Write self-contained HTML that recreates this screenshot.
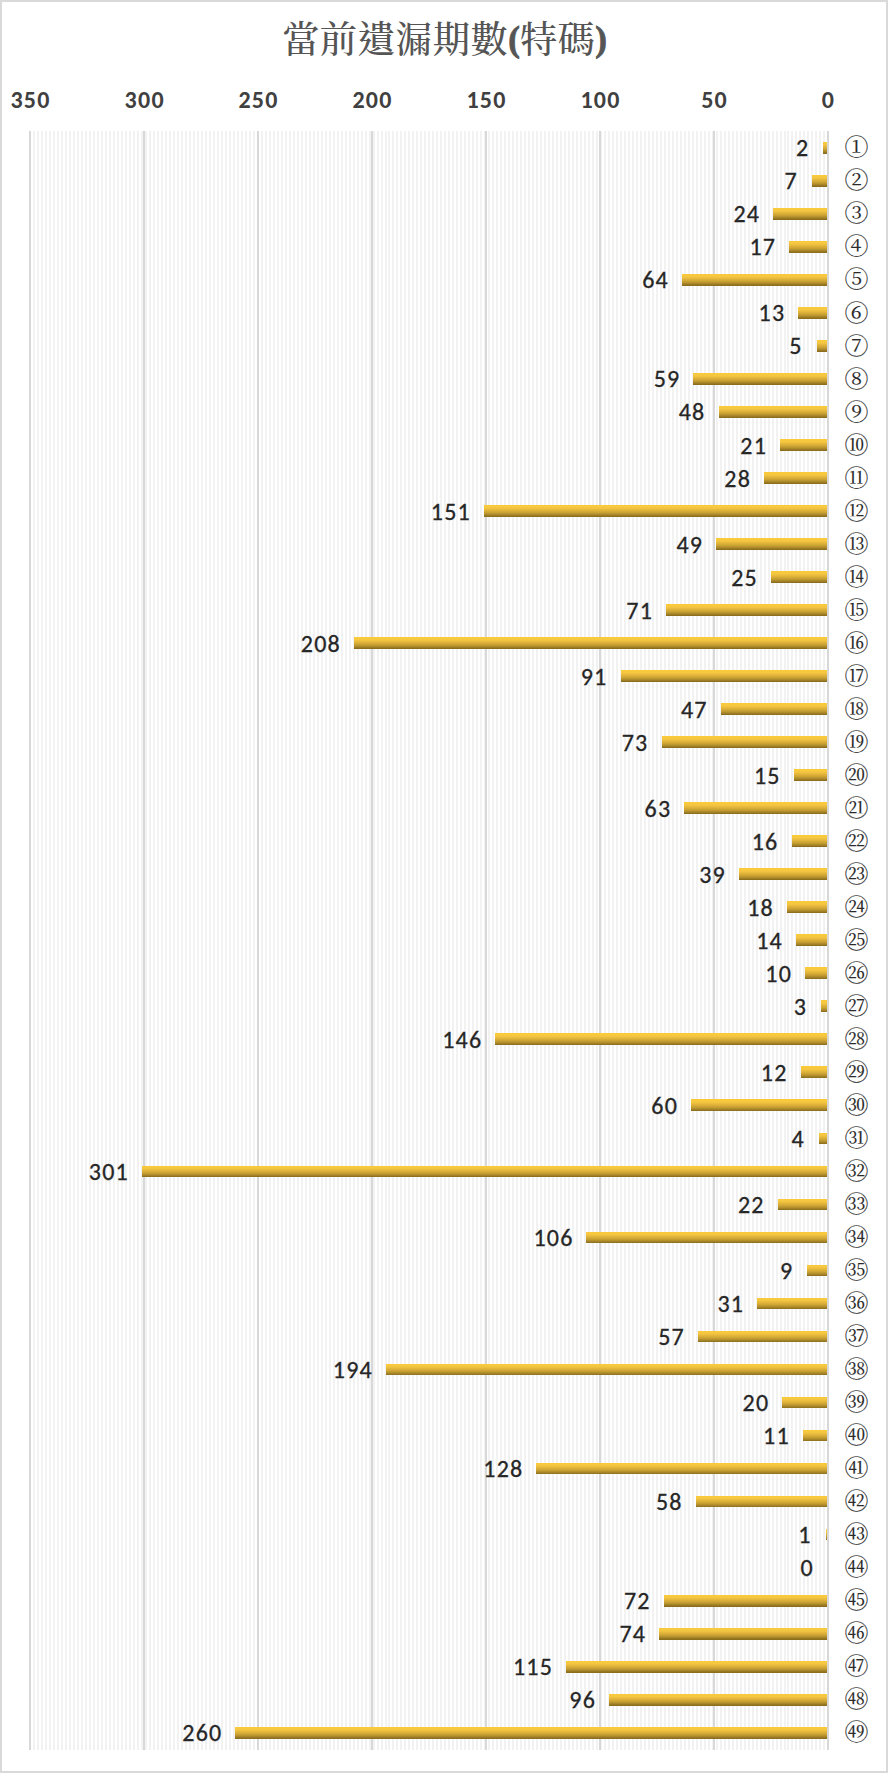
<!DOCTYPE html>
<html><head><meta charset="utf-8"><title>當前遺漏期數(特碼)</title>
<style>
html,body{margin:0;padding:0;background:#fff;}
body{width:888px;height:1774px;overflow:hidden;position:relative;}
svg{position:absolute;left:0;top:0;display:block;}
.t{font-family:"Noto Serif CJK TC","Noto Serif CJK SC","Liberation Serif",serif;font-size:37.33px;font-weight:500;fill:#555555;letter-spacing:0.35px;}
.tp{font-family:"Liberation Serif",serif;font-weight:bold;font-size:35px;letter-spacing:0;stroke:#555555;stroke-width:0.8px;}
.ax{font-family:Carlito,"Liberation Sans",sans-serif;font-size:24px;font-weight:bold;fill:#404040;letter-spacing:1.3px;}
.dl{font-family:Carlito,"Liberation Sans",sans-serif;font-size:24px;letter-spacing:1.2px;fill:#262626;stroke:#262626;stroke-width:0.3px;}
.cl{font-family:"Noto Serif CJK TC","Noto Serif CJK SC","Liberation Serif",serif;font-size:24px;fill:#2a2a2a;stroke:#2a2a2a;stroke-width:0.12px;}
</style></head><body>
<svg width="888" height="1774" viewBox="0 0 888 1774">
<defs><linearGradient id="g" x1="0" y1="0" x2="0" y2="1">
<stop offset="0.0417" stop-color="#fbca38"/><stop offset="0.1250" stop-color="#f8c83f"/><stop offset="0.2083" stop-color="#f5c842"/><stop offset="0.2917" stop-color="#f0c240"/><stop offset="0.3750" stop-color="#e8ba3c"/><stop offset="0.4583" stop-color="#dfb23a"/><stop offset="0.5417" stop-color="#d6aa36"/><stop offset="0.6250" stop-color="#cba333"/><stop offset="0.7083" stop-color="#be9830"/><stop offset="0.7917" stop-color="#ae8b2c"/><stop offset="0.8750" stop-color="#9f7f26"/><stop offset="0.9583" stop-color="#8c6e1c"/>
</linearGradient></defs>
<rect x="0" y="0" width="888" height="1774" fill="#fff"/>
<rect x="1" y="1" width="886" height="1771" fill="none" stroke="#d9d9d9" stroke-width="2"/>
<text class="t" x="444.5" y="53" text-anchor="middle">當前遺漏期數<tspan class="tp" dy="-2.5">(</tspan><tspan dy="2.5">特碼</tspan><tspan class="tp" dy="-2.5">)</tspan></text>
<g stroke="#f2f2f2" stroke-width="2"><line x1="824" y1="131" x2="824" y2="1750"/><line x1="820" y1="131" x2="820" y2="1750"/><line x1="816" y1="131" x2="816" y2="1750"/><line x1="812" y1="131" x2="812" y2="1750"/><line x1="808" y1="131" x2="808" y2="1750"/><line x1="804" y1="131" x2="804" y2="1750"/><line x1="800" y1="131" x2="800" y2="1750"/><line x1="796" y1="131" x2="796" y2="1750"/><line x1="792" y1="131" x2="792" y2="1750"/><line x1="788" y1="131" x2="788" y2="1750"/><line x1="785" y1="131" x2="785" y2="1750"/><line x1="781" y1="131" x2="781" y2="1750"/><line x1="777" y1="131" x2="777" y2="1750"/><line x1="773" y1="131" x2="773" y2="1750"/><line x1="769" y1="131" x2="769" y2="1750"/><line x1="765" y1="131" x2="765" y2="1750"/><line x1="761" y1="131" x2="761" y2="1750"/><line x1="757" y1="131" x2="757" y2="1750"/><line x1="753" y1="131" x2="753" y2="1750"/><line x1="749" y1="131" x2="749" y2="1750"/><line x1="745" y1="131" x2="745" y2="1750"/><line x1="741" y1="131" x2="741" y2="1750"/><line x1="737" y1="131" x2="737" y2="1750"/><line x1="733" y1="131" x2="733" y2="1750"/><line x1="729" y1="131" x2="729" y2="1750"/><line x1="725" y1="131" x2="725" y2="1750"/><line x1="721" y1="131" x2="721" y2="1750"/><line x1="717" y1="131" x2="717" y2="1750"/><line x1="713" y1="131" x2="713" y2="1750"/><line x1="709" y1="131" x2="709" y2="1750"/><line x1="705" y1="131" x2="705" y2="1750"/><line x1="701" y1="131" x2="701" y2="1750"/><line x1="697" y1="131" x2="697" y2="1750"/><line x1="693" y1="131" x2="693" y2="1750"/><line x1="689" y1="131" x2="689" y2="1750"/><line x1="685" y1="131" x2="685" y2="1750"/><line x1="681" y1="131" x2="681" y2="1750"/><line x1="677" y1="131" x2="677" y2="1750"/><line x1="673" y1="131" x2="673" y2="1750"/><line x1="669" y1="131" x2="669" y2="1750"/><line x1="665" y1="131" x2="665" y2="1750"/><line x1="661" y1="131" x2="661" y2="1750"/><line x1="657" y1="131" x2="657" y2="1750"/><line x1="653" y1="131" x2="653" y2="1750"/><line x1="649" y1="131" x2="649" y2="1750"/><line x1="645" y1="131" x2="645" y2="1750"/><line x1="641" y1="131" x2="641" y2="1750"/><line x1="637" y1="131" x2="637" y2="1750"/><line x1="633" y1="131" x2="633" y2="1750"/><line x1="629" y1="131" x2="629" y2="1750"/><line x1="625" y1="131" x2="625" y2="1750"/><line x1="621" y1="131" x2="621" y2="1750"/><line x1="617" y1="131" x2="617" y2="1750"/><line x1="613" y1="131" x2="613" y2="1750"/><line x1="609" y1="131" x2="609" y2="1750"/><line x1="605" y1="131" x2="605" y2="1750"/><line x1="601" y1="131" x2="601" y2="1750"/><line x1="597" y1="131" x2="597" y2="1750"/><line x1="593" y1="131" x2="593" y2="1750"/><line x1="589" y1="131" x2="589" y2="1750"/><line x1="585" y1="131" x2="585" y2="1750"/><line x1="581" y1="131" x2="581" y2="1750"/><line x1="577" y1="131" x2="577" y2="1750"/><line x1="573" y1="131" x2="573" y2="1750"/><line x1="569" y1="131" x2="569" y2="1750"/><line x1="565" y1="131" x2="565" y2="1750"/><line x1="561" y1="131" x2="561" y2="1750"/><line x1="557" y1="131" x2="557" y2="1750"/><line x1="553" y1="131" x2="553" y2="1750"/><line x1="549" y1="131" x2="549" y2="1750"/><line x1="545" y1="131" x2="545" y2="1750"/><line x1="541" y1="131" x2="541" y2="1750"/><line x1="537" y1="131" x2="537" y2="1750"/><line x1="533" y1="131" x2="533" y2="1750"/><line x1="529" y1="131" x2="529" y2="1750"/><line x1="525" y1="131" x2="525" y2="1750"/><line x1="521" y1="131" x2="521" y2="1750"/><line x1="517" y1="131" x2="517" y2="1750"/><line x1="513" y1="131" x2="513" y2="1750"/><line x1="509" y1="131" x2="509" y2="1750"/><line x1="505" y1="131" x2="505" y2="1750"/><line x1="501" y1="131" x2="501" y2="1750"/><line x1="497" y1="131" x2="497" y2="1750"/><line x1="493" y1="131" x2="493" y2="1750"/><line x1="489" y1="131" x2="489" y2="1750"/><line x1="485" y1="131" x2="485" y2="1750"/><line x1="481" y1="131" x2="481" y2="1750"/><line x1="477" y1="131" x2="477" y2="1750"/><line x1="473" y1="131" x2="473" y2="1750"/><line x1="469" y1="131" x2="469" y2="1750"/><line x1="465" y1="131" x2="465" y2="1750"/><line x1="461" y1="131" x2="461" y2="1750"/><line x1="457" y1="131" x2="457" y2="1750"/><line x1="453" y1="131" x2="453" y2="1750"/><line x1="449" y1="131" x2="449" y2="1750"/><line x1="445" y1="131" x2="445" y2="1750"/><line x1="441" y1="131" x2="441" y2="1750"/><line x1="437" y1="131" x2="437" y2="1750"/><line x1="433" y1="131" x2="433" y2="1750"/><line x1="429" y1="131" x2="429" y2="1750"/><line x1="425" y1="131" x2="425" y2="1750"/><line x1="421" y1="131" x2="421" y2="1750"/><line x1="417" y1="131" x2="417" y2="1750"/><line x1="413" y1="131" x2="413" y2="1750"/><line x1="409" y1="131" x2="409" y2="1750"/><line x1="405" y1="131" x2="405" y2="1750"/><line x1="401" y1="131" x2="401" y2="1750"/><line x1="397" y1="131" x2="397" y2="1750"/><line x1="393" y1="131" x2="393" y2="1750"/><line x1="389" y1="131" x2="389" y2="1750"/><line x1="386" y1="131" x2="386" y2="1750"/><line x1="382" y1="131" x2="382" y2="1750"/><line x1="378" y1="131" x2="378" y2="1750"/><line x1="374" y1="131" x2="374" y2="1750"/><line x1="370" y1="131" x2="370" y2="1750"/><line x1="366" y1="131" x2="366" y2="1750"/><line x1="362" y1="131" x2="362" y2="1750"/><line x1="358" y1="131" x2="358" y2="1750"/><line x1="354" y1="131" x2="354" y2="1750"/><line x1="350" y1="131" x2="350" y2="1750"/><line x1="346" y1="131" x2="346" y2="1750"/><line x1="342" y1="131" x2="342" y2="1750"/><line x1="338" y1="131" x2="338" y2="1750"/><line x1="334" y1="131" x2="334" y2="1750"/><line x1="330" y1="131" x2="330" y2="1750"/><line x1="326" y1="131" x2="326" y2="1750"/><line x1="322" y1="131" x2="322" y2="1750"/><line x1="318" y1="131" x2="318" y2="1750"/><line x1="314" y1="131" x2="314" y2="1750"/><line x1="310" y1="131" x2="310" y2="1750"/><line x1="306" y1="131" x2="306" y2="1750"/><line x1="302" y1="131" x2="302" y2="1750"/><line x1="298" y1="131" x2="298" y2="1750"/><line x1="294" y1="131" x2="294" y2="1750"/><line x1="290" y1="131" x2="290" y2="1750"/><line x1="286" y1="131" x2="286" y2="1750"/><line x1="282" y1="131" x2="282" y2="1750"/><line x1="278" y1="131" x2="278" y2="1750"/><line x1="274" y1="131" x2="274" y2="1750"/><line x1="270" y1="131" x2="270" y2="1750"/><line x1="266" y1="131" x2="266" y2="1750"/><line x1="262" y1="131" x2="262" y2="1750"/><line x1="258" y1="131" x2="258" y2="1750"/><line x1="254" y1="131" x2="254" y2="1750"/><line x1="250" y1="131" x2="250" y2="1750"/><line x1="246" y1="131" x2="246" y2="1750"/><line x1="242" y1="131" x2="242" y2="1750"/><line x1="238" y1="131" x2="238" y2="1750"/><line x1="234" y1="131" x2="234" y2="1750"/><line x1="230" y1="131" x2="230" y2="1750"/><line x1="226" y1="131" x2="226" y2="1750"/><line x1="222" y1="131" x2="222" y2="1750"/><line x1="218" y1="131" x2="218" y2="1750"/><line x1="214" y1="131" x2="214" y2="1750"/><line x1="210" y1="131" x2="210" y2="1750"/><line x1="206" y1="131" x2="206" y2="1750"/><line x1="202" y1="131" x2="202" y2="1750"/><line x1="198" y1="131" x2="198" y2="1750"/><line x1="194" y1="131" x2="194" y2="1750"/><line x1="190" y1="131" x2="190" y2="1750"/><line x1="186" y1="131" x2="186" y2="1750"/><line x1="182" y1="131" x2="182" y2="1750"/><line x1="178" y1="131" x2="178" y2="1750"/><line x1="174" y1="131" x2="174" y2="1750"/><line x1="170" y1="131" x2="170" y2="1750"/><line x1="166" y1="131" x2="166" y2="1750"/><line x1="162" y1="131" x2="162" y2="1750"/><line x1="158" y1="131" x2="158" y2="1750"/><line x1="154" y1="131" x2="154" y2="1750"/><line x1="150" y1="131" x2="150" y2="1750"/><line x1="146" y1="131" x2="146" y2="1750"/><line x1="142" y1="131" x2="142" y2="1750"/><line x1="138" y1="131" x2="138" y2="1750"/><line x1="134" y1="131" x2="134" y2="1750"/><line x1="130" y1="131" x2="130" y2="1750"/><line x1="126" y1="131" x2="126" y2="1750"/><line x1="122" y1="131" x2="122" y2="1750"/><line x1="118" y1="131" x2="118" y2="1750"/><line x1="114" y1="131" x2="114" y2="1750"/><line x1="110" y1="131" x2="110" y2="1750"/><line x1="106" y1="131" x2="106" y2="1750"/><line x1="102" y1="131" x2="102" y2="1750"/><line x1="98" y1="131" x2="98" y2="1750"/><line x1="94" y1="131" x2="94" y2="1750"/><line x1="90" y1="131" x2="90" y2="1750"/><line x1="86" y1="131" x2="86" y2="1750"/><line x1="82" y1="131" x2="82" y2="1750"/><line x1="78" y1="131" x2="78" y2="1750"/><line x1="74" y1="131" x2="74" y2="1750"/><line x1="70" y1="131" x2="70" y2="1750"/><line x1="66" y1="131" x2="66" y2="1750"/><line x1="62" y1="131" x2="62" y2="1750"/><line x1="58" y1="131" x2="58" y2="1750"/><line x1="54" y1="131" x2="54" y2="1750"/><line x1="50" y1="131" x2="50" y2="1750"/><line x1="46" y1="131" x2="46" y2="1750"/><line x1="42" y1="131" x2="42" y2="1750"/><line x1="38" y1="131" x2="38" y2="1750"/><line x1="34" y1="131" x2="34" y2="1750"/></g>
<g stroke="#d8d8d8" stroke-width="2"><line x1="828" y1="131" x2="828" y2="1750"/><line x1="714" y1="131" x2="714" y2="1750"/><line x1="600" y1="131" x2="600" y2="1750"/><line x1="486" y1="131" x2="486" y2="1750"/><line x1="372" y1="131" x2="372" y2="1750"/><line x1="258" y1="131" x2="258" y2="1750"/><line x1="144" y1="131" x2="144" y2="1750"/><line x1="30" y1="131" x2="30" y2="1750"/></g>
<text class="ax" x="828.6" y="107.5" text-anchor="middle">0</text><text class="ax" x="714.6" y="107.5" text-anchor="middle">50</text><text class="ax" x="600.6" y="107.5" text-anchor="middle">100</text><text class="ax" x="486.6" y="107.5" text-anchor="middle">150</text><text class="ax" x="372.6" y="107.5" text-anchor="middle">200</text><text class="ax" x="258.6" y="107.5" text-anchor="middle">250</text><text class="ax" x="144.7" y="107.5" text-anchor="middle">300</text><text class="ax" x="30.6" y="107.5" text-anchor="middle">350</text>
<g fill="url(#g)" shape-rendering="crispEdges"><rect x="823.44" y="141.85" width="3.56" height="11.7"/><rect x="812.04" y="174.87" width="14.96" height="11.7"/><rect x="773.28" y="207.89" width="53.72" height="11.7"/><rect x="789.24" y="240.92" width="37.76" height="11.7"/><rect x="682.08" y="273.94" width="144.92" height="11.7"/><rect x="798.36" y="306.96" width="28.64" height="11.7"/><rect x="816.60" y="339.98" width="10.40" height="11.7"/><rect x="693.48" y="373.00" width="133.52" height="11.7"/><rect x="718.56" y="406.03" width="108.44" height="11.7"/><rect x="780.12" y="439.05" width="46.88" height="11.7"/><rect x="764.16" y="472.07" width="62.84" height="11.7"/><rect x="483.72" y="505.09" width="343.28" height="11.7"/><rect x="716.28" y="538.11" width="110.72" height="11.7"/><rect x="771.00" y="571.14" width="56.00" height="11.7"/><rect x="666.12" y="604.16" width="160.88" height="11.7"/><rect x="353.76" y="637.18" width="473.24" height="11.7"/><rect x="620.52" y="670.20" width="206.48" height="11.7"/><rect x="720.84" y="703.22" width="106.16" height="11.7"/><rect x="661.56" y="736.25" width="165.44" height="11.7"/><rect x="793.80" y="769.27" width="33.20" height="11.7"/><rect x="684.36" y="802.29" width="142.64" height="11.7"/><rect x="791.52" y="835.31" width="35.48" height="11.7"/><rect x="739.08" y="868.33" width="87.92" height="11.7"/><rect x="786.96" y="901.36" width="40.04" height="11.7"/><rect x="796.08" y="934.38" width="30.92" height="11.7"/><rect x="805.20" y="967.40" width="21.80" height="11.7"/><rect x="821.16" y="1000.42" width="5.84" height="11.7"/><rect x="495.12" y="1033.44" width="331.88" height="11.7"/><rect x="800.64" y="1066.47" width="26.36" height="11.7"/><rect x="691.20" y="1099.49" width="135.80" height="11.7"/><rect x="818.88" y="1132.51" width="8.12" height="11.7"/><rect x="141.72" y="1165.53" width="685.28" height="11.7"/><rect x="777.84" y="1198.55" width="49.16" height="11.7"/><rect x="586.32" y="1231.58" width="240.68" height="11.7"/><rect x="807.48" y="1264.60" width="19.52" height="11.7"/><rect x="757.32" y="1297.62" width="69.68" height="11.7"/><rect x="698.04" y="1330.64" width="128.96" height="11.7"/><rect x="385.68" y="1363.66" width="441.32" height="11.7"/><rect x="782.40" y="1396.69" width="44.60" height="11.7"/><rect x="802.92" y="1429.71" width="24.08" height="11.7"/><rect x="536.16" y="1462.73" width="290.84" height="11.7"/><rect x="695.76" y="1495.75" width="131.24" height="11.7"/><rect x="825.72" y="1528.77" width="1.28" height="11.7"/><rect x="663.84" y="1594.82" width="163.16" height="11.7"/><rect x="659.28" y="1627.84" width="167.72" height="11.7"/><rect x="565.80" y="1660.86" width="261.20" height="11.7"/><rect x="609.12" y="1693.88" width="217.88" height="11.7"/><rect x="235.20" y="1726.91" width="591.80" height="11.7"/></g>
<line x1="828" y1="131" x2="828" y2="1750" stroke="#d8d8d8" stroke-width="2"/>
<g class="dl" text-anchor="end"><text x="809.34" y="156.30">2</text>
<text x="797.94" y="189.32">7</text>
<text x="760.18" y="222.34">24</text>
<text x="776.14" y="255.37">17</text>
<text x="668.98" y="288.39">64</text>
<text x="785.26" y="321.41">13</text>
<text x="802.50" y="354.43">5</text>
<text x="680.38" y="387.45">59</text>
<text x="705.46" y="420.48">48</text>
<text x="767.02" y="453.50">21</text>
<text x="751.06" y="486.52">28</text>
<text x="470.92" y="519.54">151</text>
<text x="703.18" y="552.56">49</text>
<text x="757.90" y="585.59">25</text>
<text x="653.02" y="618.61">71</text>
<text x="340.96" y="651.63">208</text>
<text x="607.42" y="684.65">91</text>
<text x="707.74" y="717.67">47</text>
<text x="648.46" y="750.70">73</text>
<text x="780.70" y="783.72">15</text>
<text x="671.26" y="816.74">63</text>
<text x="778.42" y="849.76">16</text>
<text x="725.98" y="882.78">39</text>
<text x="773.86" y="915.81">18</text>
<text x="782.98" y="948.83">14</text>
<text x="792.10" y="981.85">10</text>
<text x="807.06" y="1014.87">3</text>
<text x="482.32" y="1047.89">146</text>
<text x="787.54" y="1080.92">12</text>
<text x="678.10" y="1113.94">60</text>
<text x="804.78" y="1146.96">4</text>
<text x="128.92" y="1179.98">301</text>
<text x="764.74" y="1213.00">22</text>
<text x="573.52" y="1246.03">106</text>
<text x="793.38" y="1279.05">9</text>
<text x="744.22" y="1312.07">31</text>
<text x="684.94" y="1345.09">57</text>
<text x="372.88" y="1378.11">194</text>
<text x="769.30" y="1411.14">20</text>
<text x="789.82" y="1444.16">11</text>
<text x="523.36" y="1477.18">128</text>
<text x="682.66" y="1510.20">58</text>
<text x="811.62" y="1543.22">1</text>
<text x="813.90" y="1576.25">0</text>
<text x="650.74" y="1609.27">72</text>
<text x="646.18" y="1642.29">74</text>
<text x="553.00" y="1675.31">115</text>
<text x="596.02" y="1708.33">96</text>
<text x="222.40" y="1741.36">260</text></g>
<g class="cl" text-anchor="middle"><text transform="matrix(1,0,0,0.93,856.5,147.70)" y="8.27">①</text>
<text transform="matrix(1,0,0,0.93,856.5,180.72)" y="8.27">②</text>
<text transform="matrix(1,0,0,0.93,856.5,213.74)" y="8.27">③</text>
<text transform="matrix(1,0,0,0.93,856.5,246.77)" y="8.27">④</text>
<text transform="matrix(1,0,0,0.93,856.5,279.79)" y="8.27">⑤</text>
<text transform="matrix(1,0,0,0.93,856.5,312.81)" y="8.27">⑥</text>
<text transform="matrix(1,0,0,0.93,856.5,345.83)" y="8.27">⑦</text>
<text transform="matrix(1,0,0,0.93,856.5,378.85)" y="8.27">⑧</text>
<text transform="matrix(1,0,0,0.93,856.5,411.88)" y="8.27">⑨</text>
<text transform="matrix(1,0,0,0.93,856.5,444.90)" y="8.27">⑩</text>
<text transform="matrix(1,0,0,0.93,856.5,477.92)" y="8.27">⑪</text>
<text transform="matrix(1,0,0,0.93,856.5,510.94)" y="8.27">⑫</text>
<text transform="matrix(1,0,0,0.93,856.5,543.96)" y="8.27">⑬</text>
<text transform="matrix(1,0,0,0.93,856.5,576.99)" y="8.27">⑭</text>
<text transform="matrix(1,0,0,0.93,856.5,610.01)" y="8.27">⑮</text>
<text transform="matrix(1,0,0,0.93,856.5,643.03)" y="8.27">⑯</text>
<text transform="matrix(1,0,0,0.93,856.5,676.05)" y="8.27">⑰</text>
<text transform="matrix(1,0,0,0.93,856.5,709.07)" y="8.27">⑱</text>
<text transform="matrix(1,0,0,0.93,856.5,742.10)" y="8.27">⑲</text>
<text transform="matrix(1,0,0,0.93,856.5,775.12)" y="8.27">⑳</text>
<text transform="matrix(1,0,0,0.93,856.5,808.14)" y="8.27">㉑</text>
<text transform="matrix(1,0,0,0.93,856.5,841.16)" y="8.27">㉒</text>
<text transform="matrix(1,0,0,0.93,856.5,874.18)" y="8.27">㉓</text>
<text transform="matrix(1,0,0,0.93,856.5,907.21)" y="8.27">㉔</text>
<text transform="matrix(1,0,0,0.93,856.5,940.23)" y="8.27">㉕</text>
<text transform="matrix(1,0,0,0.93,856.5,973.25)" y="8.27">㉖</text>
<text transform="matrix(1,0,0,0.93,856.5,1006.27)" y="8.27">㉗</text>
<text transform="matrix(1,0,0,0.93,856.5,1039.29)" y="8.27">㉘</text>
<text transform="matrix(1,0,0,0.93,856.5,1072.32)" y="8.27">㉙</text>
<text transform="matrix(1,0,0,0.93,856.5,1105.34)" y="8.27">㉚</text>
<text transform="matrix(1,0,0,0.93,856.5,1138.36)" y="8.27">㉛</text>
<text transform="matrix(1,0,0,0.93,856.5,1171.38)" y="8.27">㉜</text>
<text transform="matrix(1,0,0,0.93,856.5,1204.40)" y="8.27">㉝</text>
<text transform="matrix(1,0,0,0.93,856.5,1237.43)" y="8.27">㉞</text>
<text transform="matrix(1,0,0,0.93,856.5,1270.45)" y="8.27">㉟</text>
<text transform="matrix(1,0,0,0.93,856.5,1303.47)" y="8.27">㊱</text>
<text transform="matrix(1,0,0,0.93,856.5,1336.49)" y="8.27">㊲</text>
<text transform="matrix(1,0,0,0.93,856.5,1369.51)" y="8.27">㊳</text>
<text transform="matrix(1,0,0,0.93,856.5,1402.54)" y="8.27">㊴</text>
<text transform="matrix(1,0,0,0.93,856.5,1435.56)" y="8.27">㊵</text>
<text transform="matrix(1,0,0,0.93,856.5,1468.58)" y="8.27">㊶</text>
<text transform="matrix(1,0,0,0.93,856.5,1501.60)" y="8.27">㊷</text>
<text transform="matrix(1,0,0,0.93,856.5,1534.62)" y="8.27">㊸</text>
<text transform="matrix(1,0,0,0.93,856.5,1567.65)" y="8.27">㊹</text>
<text transform="matrix(1,0,0,0.93,856.5,1600.67)" y="8.27">㊺</text>
<text transform="matrix(1,0,0,0.93,856.5,1633.69)" y="8.27">㊻</text>
<text transform="matrix(1,0,0,0.93,856.5,1666.71)" y="8.27">㊼</text>
<text transform="matrix(1,0,0,0.93,856.5,1699.73)" y="8.27">㊽</text>
<text transform="matrix(1,0,0,0.93,856.5,1732.76)" y="8.27">㊾</text></g>
</svg>
</body></html>
